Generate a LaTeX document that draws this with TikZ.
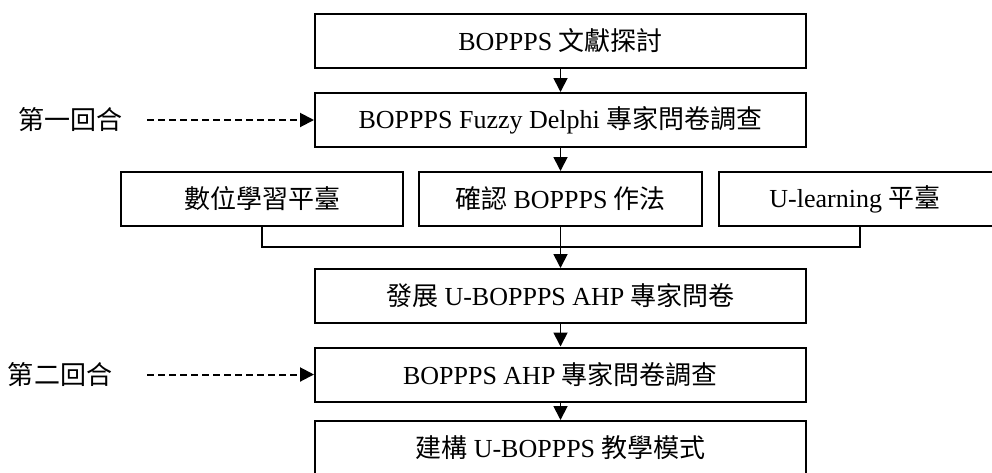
\documentclass[tikz,border=0pt]{standalone}
\usepackage{fontspec}
\setmainfont{Liberation Serif}
\newfontfamily\cjkfont{Noto Sans CJK TC}
\newcommand{\zh}[1]{{\cjkfont #1}}
\usetikzlibrary{arrows.meta}
\tikzset{
  box/.style={draw=black, line width=2pt, fill=white, minimum height=54pt, inner sep=0pt, font=\fontsize{26}{30}\selectfont},
  mainbox/.style={box, minimum width=491pt},
  sidebox/.style={box, minimum width=282pt},
  flow/.style={line width=1.8pt, -{Triangle[length=14pt,width=14pt]}},
  plain/.style={line width=1.8pt},
  dashflow/.style={line width=2pt, dash pattern=on 7pt off 4pt, -{Triangle[length=14pt,width=14pt]}},
  label/.style={font=\fontsize{26}{30}\selectfont, inner sep=0pt}
}
\begin{document}
\begin{tikzpicture}[x=1pt,y=-1pt]
\clip (0,0) rectangle (992,472);
\fill[white] (0,0) rectangle (992,472);
\node[mainbox] (b1) at (560.5,41) {BOPPPS \zh{文獻探討}};
\node[mainbox] (b2) at (560.5,120) {BOPPPS Fuzzy Delphi \zh{專家問卷調查}};
\node[sidebox] (r1) at (262,199) {\zh{數位學習平臺}};
\node[sidebox, minimum width=283pt] (r2) at (560.5,199) {\zh{確認} BOPPPS \zh{作法}};
\node[sidebox] (r3) at (860,199) {\hspace*{-10pt}U-learning \zh{平臺}};
\node[mainbox] (b4) at (560.5,296) {\zh{發展} U-BOPPPS AHP \zh{專家問卷}};
\node[mainbox] (b5) at (560.5,374.5) {BOPPPS AHP \zh{專家問卷調查}};
\node[mainbox] (b6) at (560.5,448) {\zh{建構} U-BOPPPS \zh{教學模式}};
\node[label] (l1) at (70,120) {\zh{第一回合}};
\node[label] (l2) at (60,375) {\zh{第二回合}};
\coordinate (d1) at (147,120);
\coordinate (d2) at (147,374.5);
\coordinate (m) at (560.5,247);
\draw[flow] (b1) -- (b2);
\draw[flow] (b2) -- (r2);
\draw[plain] (r1.south) |- (m) -| (r3.south);
\draw[flow] (r2) -- (b4);
\draw[flow] (b4) -- (b5);
\draw[flow] (b5) -- (b6);
\draw[dashflow] (d1) -- (b2.west);
\draw[dashflow] (d2) -- (b5.west);
\end{tikzpicture}
\end{document}
